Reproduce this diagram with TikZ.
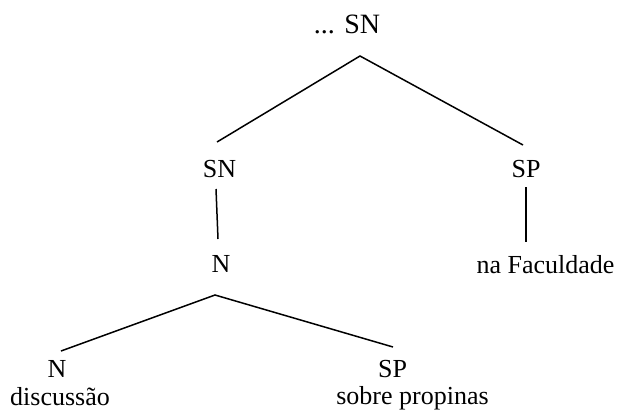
\documentclass[tikz,border=0pt]{standalone}
\usepackage{fontspec}
\setmainfont{Liberation Serif}
\tikzset{
  cat/.style={anchor=base, inner sep=0pt, font=\fontsize{26}{30}\selectfont},
  word/.style={anchor=base, inner sep=0pt, font=\fontsize{26}{30}\selectfont},
  branch/.style={line width=1.5pt}
}
\begin{document}
\begin{tikzpicture}[x=1pt,y=-1pt]
        \useasboundingbox (0,0) rectangle (617,412);
        % Define coordinates
        \coordinate (topApex) at (360,56);
        \coordinate (snUp) at (217,142);
        \coordinate (spUp) at (523,145);
        \coordinate (snDown) at (216,189);
        \coordinate (nUp) at (218,239);
        \coordinate (spDown) at (526,187);
        \coordinate (facUp) at (526,242);
        \coordinate (nApex) at (215,295);
        \coordinate (nLeftUp) at (61,351);
        \coordinate (spRightUp) at (393,347);
        
        % Label categories
        \node[cat, font=\fontsize{28}{32}\selectfont] (top) at (347,34) {... SN};
        \node[cat] (sn) at (219.5,177) {SN};
        \node[cat] (sp) at (526,177) {SP};
        \node[cat] (n) at (221,272) {N};
        \node[cat] (nLeft) at (57,377) {N};
        \node[cat] (spRight) at (392.5,377) {SP};
        
        % Label words
        \node[word] (fac) at (545.5,273) {na Faculdade};
        \node[word] (disc) at (60,405) {discussão};
        \node[word] (prop) at (412.5,404) {sobre propinas};
        
        % Draw the branches
        \draw[branch] (snUp) -- (topApex) -- (spUp);
        \draw[branch] (snDown) -- (nUp);
        \draw[branch] (spDown) -- (facUp);
        \draw[branch] (nLeftUp) -- (nApex) -- (spRightUp);
    \end{tikzpicture}
\end{document}
